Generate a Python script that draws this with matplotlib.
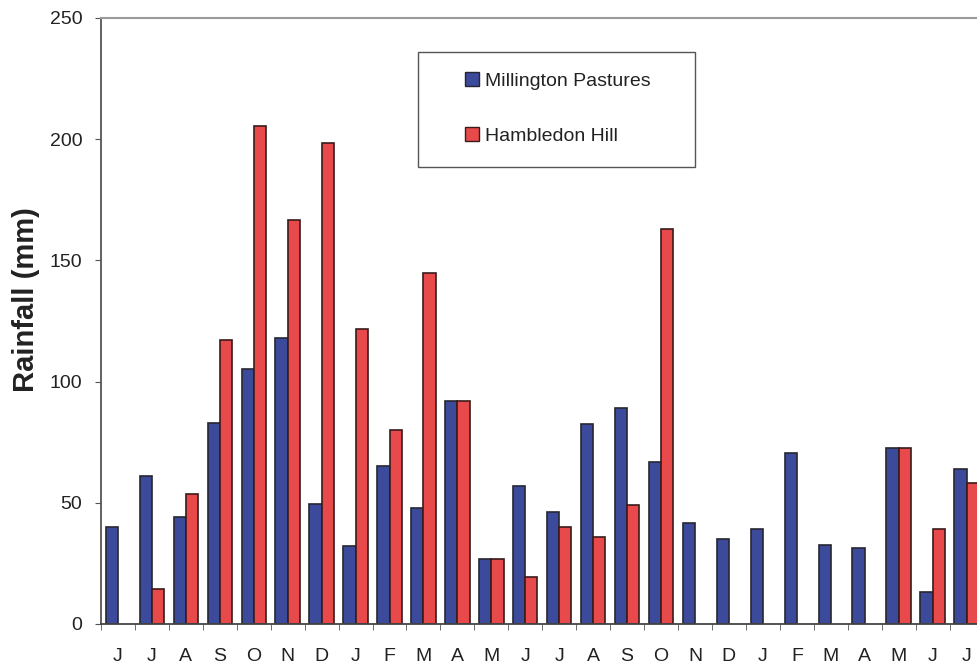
import numpy as np
import matplotlib
matplotlib.use("Agg")
import matplotlib.pyplot as plt
from matplotlib.patches import Patch, Rectangle

plt.rcParams['font.family'] = ['Liberation Sans', 'DejaVu Sans']

months = ["J", "J", "A", "S", "O", "N", "D", "J", "F", "M", "A", "M", "J",
          "J", "A", "S", "O", "N", "D", "J", "F", "M", "A", "M", "J", "J"]
millington = [40, 61, 44, 83, 105, 118, 49.5, 32, 65, 48, 92, 27, 57,
              46, 82.5, 89, 67, 41.5, 35, 39, 70.5, 32.5, 31.5, 72.5, 13, 64]
hambledon = [np.nan, 14.5, 53.5, 117, 205.5, 166.5, 198.5, 121.5, 80, 145, 92, 27, 19.5,
             40, 36, 49, 163, np.nan, np.nan, np.nan, np.nan, np.nan, np.nan, 72.5, 39, 58]
series_names = ["Millington Pastures", "Hambledon Hill"]
yticks = [0, 50, 100, 150, 200, 250]

fig = plt.figure(figsize=(9.77, 6.64), dpi=100)
ax = fig.add_axes([101/977, 1-624/664, 882.5/977, (624-18)/664])

x = np.arange(len(months))
w = 0.36
blue = '#3c4a9c'
red = '#e84a4b'
ax.bar(x - w/2, millington, width=w, color=blue, edgecolor='#262630', linewidth=1.2)
ax.bar(x + w/2, np.array(hambledon, dtype=float), width=w, color=red, edgecolor='#3a1a1a', linewidth=1.2)

ax.set_xlim(-0.5, len(months) - 0.5)
ax.set_ylim(0, 250)
ax.set_yticks(yticks)
ax.set_yticklabels([str(t) for t in yticks])
ax.set_xticks(x)
ax.set_xticklabels(months)
ax.set_xticks(np.arange(len(months) + 1) - 0.5, minor=True)
ax.tick_params(axis='x', which='major', length=0, pad=17, labelsize=14, labelcolor='#222222')
ax.tick_params(axis='x', which='minor', length=4, direction='out', color='#555555')
ax.tick_params(axis='y', length=4.5, direction='out', pad=9, labelsize=14,
               labelcolor='#222222', color='#555555')

ax.spines['right'].set_visible(False)
ax.spines['top'].set_color('#9a9a9a')
ax.spines['top'].set_linewidth(1.5)
ax.spines['left'].set_color('#555555')
ax.spines['left'].set_linewidth(1.3)
ax.spines['bottom'].set_color('#444444')
ax.spines['bottom'].set_linewidth(1.3)

ax.set_ylabel("Rainfall (mm)", fontsize=21, fontweight='bold', color='#222222')
ax.yaxis.set_label_coords(-0.069, 0.535)

# legend frame
fig.patches.append(Rectangle((418/977, 1-166.7/664), (695-418)/977, (166.7-51.7)/664,
                             transform=fig.transFigure, facecolor='white',
                             edgecolor='#555555', linewidth=1.0, zorder=5))
handles = [Patch(facecolor=blue, edgecolor='#262630', linewidth=1.0),
           Patch(facecolor=red, edgecolor='#3a1a1a', linewidth=1.0)]
fig.legend(handles, series_names, loc='center', bbox_to_anchor=(558/977, 1-108.5/664),
           frameon=False, fontsize=14, labelspacing=1.9, handlelength=0.7,
           handleheight=0.7, handletextpad=0.3, labelcolor='#222222')

fig.savefig("out.png", dpi=100)
